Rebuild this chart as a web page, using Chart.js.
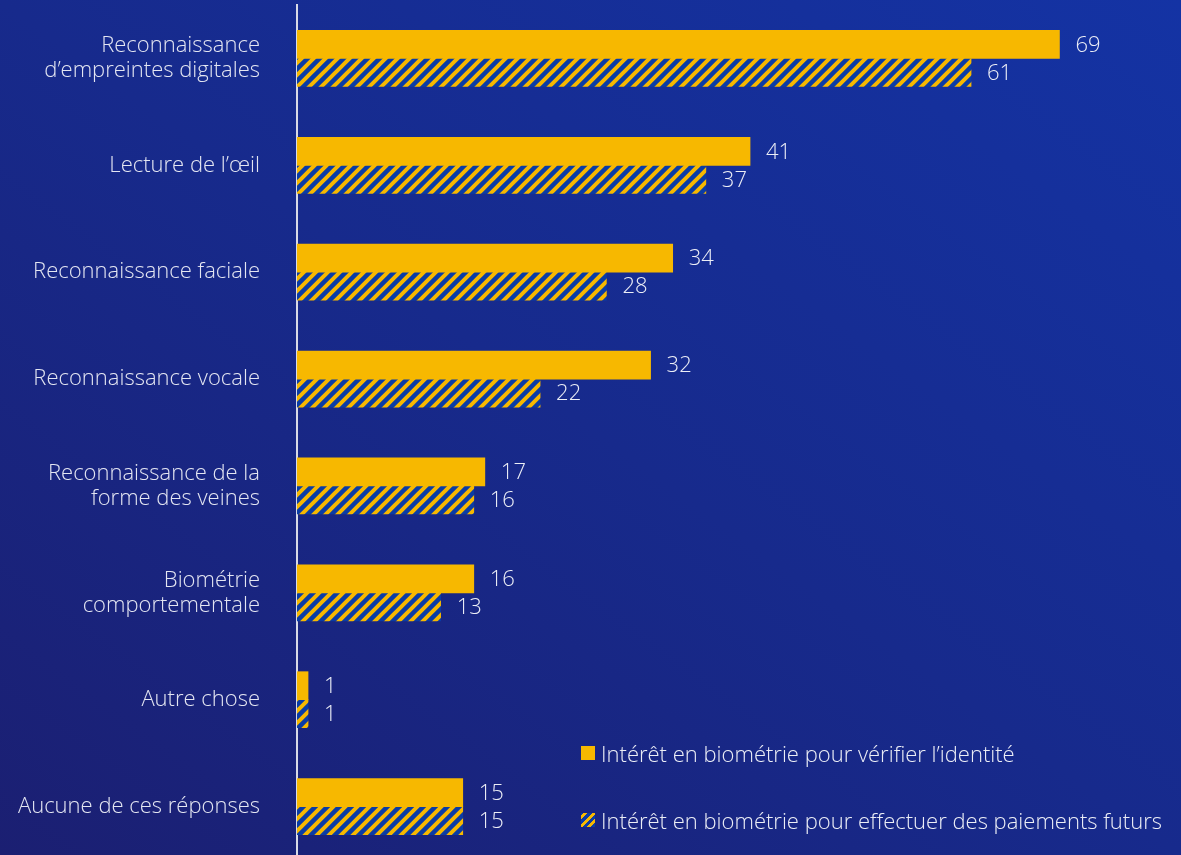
<!DOCTYPE html>
<html>
<head>
<meta charset="utf-8">
<script src="https://cdn.jsdelivr.net/npm/chart.js@4.4.1/dist/chart.umd.min.js"></script>
<style>
  html, body { margin: 0; padding: 0; width: 1181px; height: 855px; overflow: hidden; }
  body { background: linear-gradient(to top right, #1b1f72 0%, #172a8c 50%, #1433a4 100%); position: relative; font-family: "Open Sans", sans-serif; }
  #wrap { position: absolute; left: 0; top: 0; width: 1181px; height: 862px; }
  .legend { position: absolute; left: 581px; color: #eceef6; font-size: 22px; font-weight: 300; white-space: nowrap; display: flex; align-items: center; line-height: 28px; }
  .sw { width: 14px; height: 14px; margin-right: 6px; display: inline-block; }
  .sw1 { background: #f7b800; }
  .sw2 { background: repeating-linear-gradient(-45deg, #0a3ca6 0px, #0a3ca6 3px, #f7b800 3px, #f7b800 6px); }
</style>
</head>
<body>
<div id="wrap"><canvas id="c" width="1181" height="862"></canvas></div>
<div class="legend" style="top:739px;"><span class="sw sw1"></span>Intérêt en biométrie pour vérifier l’identité</div>
<div class="legend" style="top:806px;"><span class="sw sw2"></span>Intérêt en biométrie pour effectuer des paiements futurs</div>
<script>
const categories = [
  ["Reconnaissance", "d’empreintes digitales"],
  "Lecture de l’œil",
  "Reconnaissance faciale",
  "Reconnaissance vocale",
  ["Reconnaissance de la", "forme des veines"],
  ["Biométrie", "comportementale"],
  "Autre chose",
  "Aucune de ces réponses"
];
const seriesNames = [
  "Intérêt en biométrie pour vérifier l’identité",
  "Intérêt en biométrie pour effectuer des paiements futurs"
];
const identityValues = [69, 41, 34, 32, 17, 16, 1, 15];
const paymentValues = [61, 37, 28, 22, 16, 13, 1, 15];

function makeHatch() {
  const s = 12;
  const p = document.createElement('canvas');
  p.width = s; p.height = s;
  const g = p.getContext('2d');
  g.fillStyle = '#0a3ca6';
  g.fillRect(0, 0, s, s);
  g.strokeStyle = '#f7b800';
  g.lineWidth = 4;
  g.beginPath();
  g.moveTo(-2, s + 2); g.lineTo(s + 2, -2);
  g.moveTo(-2, 2); g.lineTo(2, -2);
  g.moveTo(s - 2, s + 2); g.lineTo(s + 2, s - 2);
  g.stroke();
  return g.createPattern(p, 'repeat');
}

const valueLabels = {
  id: 'valueLabels',
  afterDatasetsDraw(chart) {
    const ctx = chart.ctx;
    ctx.save();
    ctx.fillStyle = '#eceef6';
    ctx.font = '300 22px "Open Sans", sans-serif';
    ctx.textBaseline = 'middle';
    ctx.textAlign = 'left';
    chart.data.datasets.forEach((ds, i) => {
      chart.getDatasetMeta(i).data.forEach((el, j) => {
        ctx.fillText(String(ds.data[j]), el.x + 16, el.y + 1);
      });
    });
    ctx.restore();
  }
};

new Chart(document.getElementById('c'), {
  type: 'bar',
  data: {
    labels: categories,
    datasets: [
      { label: seriesNames[0], data: identityValues, backgroundColor: '#f7b800', barThickness: 28 },
      { label: seriesNames[1], data: paymentValues, backgroundColor: makeHatch(), barThickness: 28 }
    ]
  },
  options: {
    indexAxis: 'y',
    responsive: false,
    animation: false,
    layout: { padding: { top: 5, bottom: 2, left: 0, right: 0 } },
    plugins: { legend: { display: false }, tooltip: { enabled: false } },
    scales: {
      x: { display: false, min: 0, max: 80 },
      y: {
        grid: { display: false },
        border: { display: true, color: '#d8dae6', width: 2 },
        ticks: {
          color: '#e4e6f2',
          padding: 29,
          font: { family: '"Open Sans", sans-serif', size: 22, weight: 300, lineHeight: 1.14 }
        },
        afterFit(scale) { scale.width = 297; scale.paddingTop = 0; scale.paddingBottom = 0; }
      }
    }
  },
  plugins: [valueLabels]
});
</script>
</body>
</html>
